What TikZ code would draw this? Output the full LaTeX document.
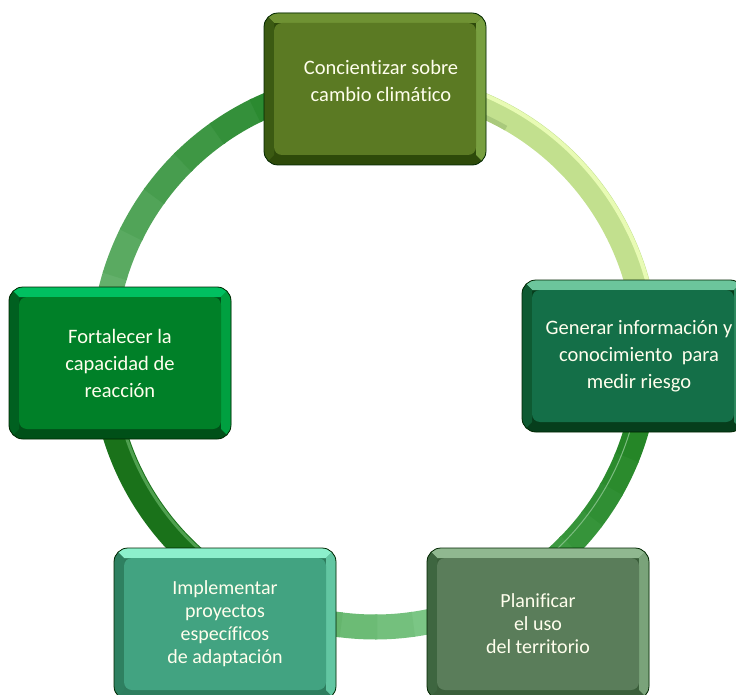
\documentclass[tikz,border=0pt]{standalone}
\usepackage{fontspec}
\setmainfont{Carlito}[Ligatures=NoCommon]
\definecolor{Af}{HTML}{C2E08E}\definecolor{Ahi}{HTML}{E8FBB4}\definecolor{Alo}{HTML}{A9C97C}
\definecolor{Ba}{HTML}{177A17}\definecolor{Bb}{HTML}{44A04A}
\definecolor{Ca}{HTML}{8ED39A}\definecolor{Cb}{HTML}{52A858}
\definecolor{Da}{HTML}{1A721A}\definecolor{Dhi}{HTML}{4FA04F}
\definecolor{Ea}{HTML}{72BA7A}\definecolor{Eb}{HTML}{137A18}
% boxes
\definecolor{t1f}{HTML}{5B7A23}\definecolor{t1t}{HTML}{6F9233}\definecolor{t1r}{HTML}{789F40}\definecolor{t1b}{HTML}{2E4A0A}\definecolor{t1l}{HTML}{3B5A12}
\definecolor{t2f}{HTML}{146F48}\definecolor{t2t}{HTML}{6CC59C}\definecolor{t2r}{HTML}{2E8A60}\definecolor{t2b}{HTML}{063E1C}\definecolor{t2l}{HTML}{0E5A32}
\definecolor{t3f}{HTML}{5A7D5A}\definecolor{t3t}{HTML}{90B890}\definecolor{t3r}{HTML}{7AA37A}\definecolor{t3b}{HTML}{3A5E3A}\definecolor{t3l}{HTML}{3E6640}
\definecolor{t4f}{HTML}{42A381}\definecolor{t4t}{HTML}{8CF0CC}\definecolor{t4r}{HTML}{62C6A2}\definecolor{t4b}{HTML}{2E7D5E}\definecolor{t4l}{HTML}{2E8060}
\definecolor{t5f}{HTML}{008028}\definecolor{t5t}{HTML}{00C060}\definecolor{t5r}{HTML}{00A040}\definecolor{t5b}{HTML}{005018}\definecolor{t5l}{HTML}{006020}
\newcommand\ringarc[5]{%
  \foreach \i in {1,...,#5}{%
    \pgfmathsetmacro\sa{#1+(#2-#1)*(\i-1)/#5}%
    \pgfmathsetmacro\ea{#1+(#2-#1)*\i/#5+0.5}%
    \pgfmathsetmacro\p{100*(1-(\i-0.5)/#5)}%
    \draw[ringline, color=#3!\p!#4] (c) ++(\sa:272) arc[start angle=\sa, end angle=\ea, radius=272];
  }}
\tikzset{
  ringline/.style={line width=25pt},
  bevbox/.style n args={5}{draw=black!85!green, line width=0.8pt, rounded corners=14pt,
    minimum width=222pt, minimum height=152pt, fill=#3, text=white!93!yellow, align=center,
    font=\fontsize{20.5}{27}\selectfont,
    path picture={
      \fill[#1, sharp corners] (path picture bounding box.north west) -- (path picture bounding box.north east)
        -- ([xshift=-10pt,yshift=-10pt]path picture bounding box.north east)
        -- ([xshift=10pt,yshift=-10pt]path picture bounding box.north west) -- cycle;
      \fill[#2, sharp corners] (path picture bounding box.north east) -- (path picture bounding box.south east)
        -- ([xshift=-10pt,yshift=10pt]path picture bounding box.south east)
        -- ([xshift=-10pt,yshift=-10pt]path picture bounding box.north east) -- cycle;
      \fill[#4, sharp corners] (path picture bounding box.north west) -- (path picture bounding box.south west)
        -- ([xshift=10pt,yshift=10pt]path picture bounding box.south west)
        -- ([xshift=10pt,yshift=-10pt]path picture bounding box.north west) -- cycle;
      \fill[#5, rounded corners=8pt] ([xshift=10pt,yshift=-10pt]path picture bounding box.north west)
        rectangle ([xshift=-10pt,yshift=10pt]path picture bounding box.south east);
    }},
  smalltext/.style={font=\fontsize{20}{23}\selectfont}
}
\begin{document}
\begin{tikzpicture}[x=1pt,y=-1pt]
\useasboundingbox (0,0) rectangle (736,695);
\coordinate (c) at (375,355);
% ring segments
\ringarc{-92}{2}{Af}{Af}{1}
\draw[line width=4pt, Ahi] (c) ++(-88:282) arc[start angle=-88, end angle=0, radius=282];
\draw[line width=5pt, Alo] (c) ++(-88:262) arc[start angle=-88, end angle=-60, radius=262];
\ringarc{0}{59}{Ba}{Bb}{8}
\draw[line width=1pt, Bb!70!white] (c) ++(8:266) arc[start angle=8, end angle=55, radius=266];
\ringarc{59}{120}{Ca}{Cb}{8}
\ringarc{119}{179}{Da}{Da}{1}
\draw[line width=3pt, Dhi] (c) ++(120:262) arc[start angle=120, end angle=176, radius=262];
\ringarc{178}{272}{Ea}{Eb}{10}
% boxes
\node[bevbox={t1t}{t1r}{t1b}{t1l}{t1f}] (aware) at (375,89) {\hspace*{12pt}Concientizar sobre\\\hspace*{12pt}cambio climático\\[-10pt]};
\node[bevbox={t2t}{t2r}{t2b}{t2l}{t2f}] (info) at (633,356) {\hspace*{12pt}Generar información y\\\hspace*{12pt}conocimiento\ \ para\\\hspace*{12pt}medir riesgo};
\node[bevbox={t3t}{t3r}{t3b}{t3l}{t3f}, smalltext] (plan) at (538,624) {Planificar\\el uso\\del territorio};
\node[bevbox={t4t}{t4r}{t4b}{t4l}{t4f}, smalltext] (impl) at (225,624) {Implementar\\proyectos\\específicos\\de adaptación};
\node[bevbox={t5t}{t5r}{t5b}{t5l}{t5f}] (fort) at (120,363) {Fortalecer la\\capacidad de\\reacción};
\end{tikzpicture}
\end{document}
